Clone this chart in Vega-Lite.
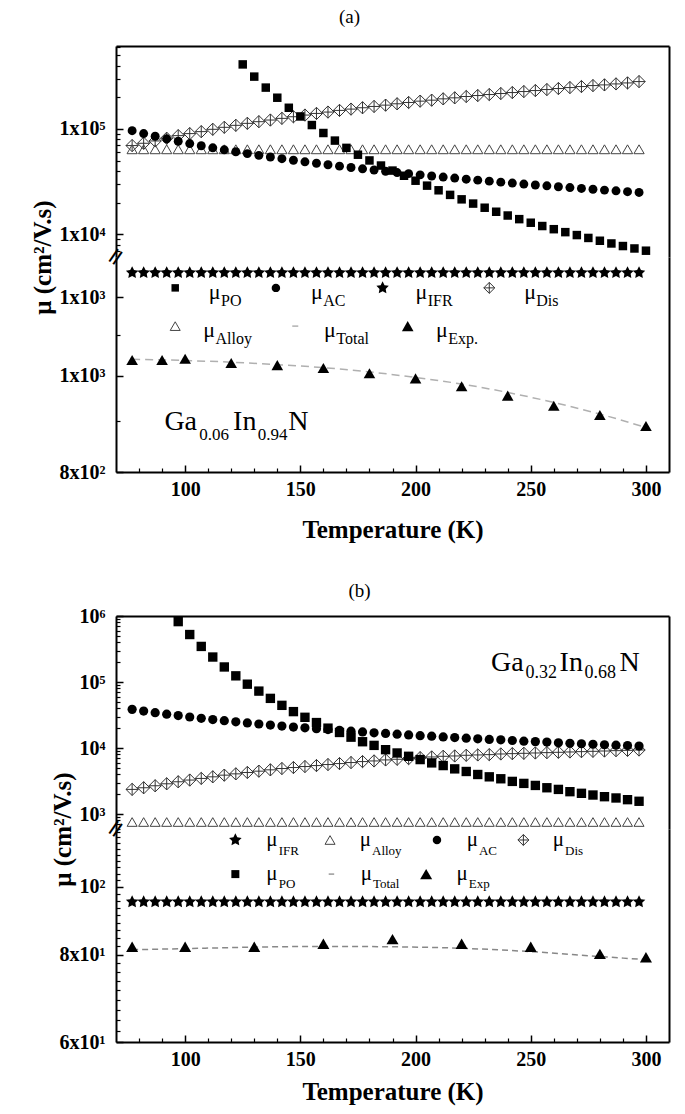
{
"$schema": "https://vega.github.io/schema/vega-lite/v6.json",
"padding": {"left": 30, "top": 8, "right": 5, "bottom": 5},
"config": {
  "view": {"stroke": null},
  "axis": {"grid": false, "domainColor": "#000", "tickColor": "#000", "labelColor": "#000", "titleColor": "#000", "labelFont": "Liberation Serif", "titleFont": "Liberation Serif", "labelFontWeight": "bold", "titleFontWeight": "bold", "labelFontSize": 20, "titleFontSize": 25, "domainWidth": 2, "tickWidth": 1.5, "labelFlush": false, "labelOverlap": false},
  "title": {"font": "Liberation Serif", "fontSize": 19, "fontWeight": "normal", "color": "#000", "anchor": "middle"}
},
"datasets": {
"aUp": [
{"s":"PO","T":125,"v":410000},{"s":"PO","T":130,"v":314000},{"s":"PO","T":135,"v":247000},{"s":"PO","T":140,"v":198000},{"s":"PO","T":145,"v":159000},{"s":"PO","T":150,"v":131500},{"s":"PO","T":155,"v":109000},{"s":"PO","T":160,"v":91600},{"s":"PO","T":165,"v":77600},{"s":"PO","T":170,"v":66200},{"s":"PO","T":175,"v":57000},{"s":"PO","T":180,"v":50300},{"s":"PO","T":185,"v":45000},{"s":"PO","T":190,"v":40300},{"s":"PO","T":195,"v":36000},{"s":"PO","T":200,"v":32300},{"s":"PO","T":205,"v":29000},{"s":"PO","T":210,"v":26200},{"s":"PO","T":215,"v":23700},{"s":"PO","T":220,"v":21500},{"s":"PO","T":225,"v":19600},{"s":"PO","T":230,"v":17900},{"s":"PO","T":235,"v":16400},{"s":"PO","T":240,"v":15100},{"s":"PO","T":245,"v":13950},{"s":"PO","T":250,"v":12900},{"s":"PO","T":255,"v":12000},{"s":"PO","T":260,"v":11200},{"s":"PO","T":265,"v":10500},{"s":"PO","T":270,"v":9850},{"s":"PO","T":275,"v":9250},{"s":"PO","T":280,"v":8700},{"s":"PO","T":285,"v":8200},{"s":"PO","T":290,"v":7750},{"s":"PO","T":295,"v":7350},{"s":"PO","T":300,"v":7000},
{"s":"AC","T":77,"v":96400},{"s":"AC","T":82,"v":90500},{"s":"AC","T":87,"v":85300},{"s":"AC","T":92,"v":80700},{"s":"AC","T":97,"v":76500},{"s":"AC","T":102,"v":72700},{"s":"AC","T":107,"v":69300},{"s":"AC","T":112,"v":66300},{"s":"AC","T":117,"v":63400},{"s":"AC","T":122,"v":60800},{"s":"AC","T":127,"v":58400},{"s":"AC","T":132,"v":56200},{"s":"AC","T":137,"v":54200},{"s":"AC","T":142,"v":52300},{"s":"AC","T":147,"v":50500},{"s":"AC","T":152,"v":48800},{"s":"AC","T":157,"v":47300},{"s":"AC","T":162,"v":45800},{"s":"AC","T":167,"v":44400},{"s":"AC","T":172,"v":43100},{"s":"AC","T":177,"v":41900},{"s":"AC","T":182,"v":40800},{"s":"AC","T":187,"v":39700},{"s":"AC","T":192,"v":38600},{"s":"AC","T":197,"v":37700},{"s":"AC","T":202,"v":36700},{"s":"AC","T":207,"v":35800},{"s":"AC","T":212,"v":35000},{"s":"AC","T":217,"v":34200},{"s":"AC","T":222,"v":33400},{"s":"AC","T":227,"v":32700},{"s":"AC","T":232,"v":32000},{"s":"AC","T":237,"v":31300},{"s":"AC","T":242,"v":30700},{"s":"AC","T":247,"v":30000},{"s":"AC","T":252,"v":29400},{"s":"AC","T":257,"v":28900},{"s":"AC","T":262,"v":28300},{"s":"AC","T":267,"v":27800},{"s":"AC","T":272,"v":27300},{"s":"AC","T":277,"v":26800},{"s":"AC","T":282,"v":26300},{"s":"AC","T":287,"v":25900},{"s":"AC","T":292,"v":25400},{"s":"AC","T":297,"v":25000},
{"s":"Dis","T":77,"v":69600},{"s":"Dis","T":82,"v":73200},{"s":"Dis","T":87,"v":77000},{"s":"Dis","T":92,"v":81700},{"s":"Dis","T":97,"v":86500},{"s":"Dis","T":102,"v":90400},{"s":"Dis","T":107,"v":94400},{"s":"Dis","T":112,"v":99300},{"s":"Dis","T":117,"v":103700},{"s":"Dis","T":122,"v":108300},{"s":"Dis","T":127,"v":113100},{"s":"Dis","T":132,"v":117300},{"s":"Dis","T":137,"v":121600},{"s":"Dis","T":142,"v":126100},{"s":"Dis","T":147,"v":130700},{"s":"Dis","T":152,"v":135600},{"s":"Dis","T":157,"v":140500},{"s":"Dis","T":162,"v":144700},{"s":"Dis","T":167,"v":150100},{"s":"Dis","T":172,"v":154400},{"s":"Dis","T":177,"v":159000},{"s":"Dis","T":182,"v":163600},{"s":"Dis","T":187,"v":168400},{"s":"Dis","T":192,"v":173400},{"s":"Dis","T":197,"v":178500},{"s":"Dis","T":202,"v":183700},{"s":"Dis","T":207,"v":187700},{"s":"Dis","T":212,"v":193200},{"s":"Dis","T":217,"v":197500},{"s":"Dis","T":222,"v":203300},{"s":"Dis","T":227,"v":207700},{"s":"Dis","T":232,"v":212300},{"s":"Dis","T":237,"v":217000},{"s":"Dis","T":242,"v":221700},{"s":"Dis","T":247,"v":226600},{"s":"Dis","T":252,"v":231600},{"s":"Dis","T":257,"v":236700},{"s":"Dis","T":262,"v":241900},{"s":"Dis","T":267,"v":247200},{"s":"Dis","T":272,"v":252600},{"s":"Dis","T":277,"v":258200},{"s":"Dis","T":282,"v":262000},{"s":"Dis","T":287,"v":267700},{"s":"Dis","T":292,"v":273600},{"s":"Dis","T":297,"v":281700},
{"s":"Alloy","T":77,"v":64200},{"s":"Alloy","T":82,"v":64200},{"s":"Alloy","T":87,"v":64200},{"s":"Alloy","T":92,"v":64200},{"s":"Alloy","T":97,"v":64200},{"s":"Alloy","T":102,"v":64200},{"s":"Alloy","T":107,"v":64200},{"s":"Alloy","T":112,"v":64200},{"s":"Alloy","T":117,"v":64200},{"s":"Alloy","T":122,"v":64200},{"s":"Alloy","T":127,"v":64200},{"s":"Alloy","T":132,"v":64200},{"s":"Alloy","T":137,"v":64200},{"s":"Alloy","T":142,"v":64200},{"s":"Alloy","T":147,"v":64200},{"s":"Alloy","T":152,"v":64200},{"s":"Alloy","T":157,"v":64200},{"s":"Alloy","T":162,"v":64200},{"s":"Alloy","T":167,"v":64200},{"s":"Alloy","T":172,"v":64200},{"s":"Alloy","T":177,"v":64200},{"s":"Alloy","T":182,"v":64200},{"s":"Alloy","T":187,"v":64200},{"s":"Alloy","T":192,"v":64200},{"s":"Alloy","T":197,"v":64200},{"s":"Alloy","T":202,"v":64200},{"s":"Alloy","T":207,"v":64200},{"s":"Alloy","T":212,"v":64200},{"s":"Alloy","T":217,"v":64200},{"s":"Alloy","T":222,"v":64200},{"s":"Alloy","T":227,"v":64200},{"s":"Alloy","T":232,"v":64200},{"s":"Alloy","T":237,"v":64200},{"s":"Alloy","T":242,"v":64200},{"s":"Alloy","T":247,"v":64200},{"s":"Alloy","T":252,"v":64200},{"s":"Alloy","T":257,"v":64200},{"s":"Alloy","T":262,"v":64200},{"s":"Alloy","T":267,"v":64200},{"s":"Alloy","T":272,"v":64200},{"s":"Alloy","T":277,"v":64200},{"s":"Alloy","T":282,"v":64200},{"s":"Alloy","T":287,"v":64200},{"s":"Alloy","T":292,"v":64200},{"s":"Alloy","T":297,"v":64200}
],
"aLow": [
{"s":"IFR","T":77,"v":1270},{"s":"IFR","T":82,"v":1270},{"s":"IFR","T":87,"v":1270},{"s":"IFR","T":92,"v":1270},{"s":"IFR","T":97,"v":1270},{"s":"IFR","T":102,"v":1270},{"s":"IFR","T":107,"v":1270},{"s":"IFR","T":112,"v":1270},{"s":"IFR","T":117,"v":1270},{"s":"IFR","T":122,"v":1270},{"s":"IFR","T":127,"v":1270},{"s":"IFR","T":132,"v":1270},{"s":"IFR","T":137,"v":1270},{"s":"IFR","T":142,"v":1270},{"s":"IFR","T":147,"v":1270},{"s":"IFR","T":152,"v":1270},{"s":"IFR","T":157,"v":1270},{"s":"IFR","T":162,"v":1270},{"s":"IFR","T":167,"v":1270},{"s":"IFR","T":172,"v":1270},{"s":"IFR","T":177,"v":1270},{"s":"IFR","T":182,"v":1270},{"s":"IFR","T":187,"v":1270},{"s":"IFR","T":192,"v":1270},{"s":"IFR","T":197,"v":1270},{"s":"IFR","T":202,"v":1270},{"s":"IFR","T":207,"v":1270},{"s":"IFR","T":212,"v":1270},{"s":"IFR","T":217,"v":1270},{"s":"IFR","T":222,"v":1270},{"s":"IFR","T":227,"v":1270},{"s":"IFR","T":232,"v":1270},{"s":"IFR","T":237,"v":1270},{"s":"IFR","T":242,"v":1270},{"s":"IFR","T":247,"v":1270},{"s":"IFR","T":252,"v":1270},{"s":"IFR","T":257,"v":1270},{"s":"IFR","T":262,"v":1270},{"s":"IFR","T":267,"v":1270},{"s":"IFR","T":272,"v":1270},{"s":"IFR","T":277,"v":1270},{"s":"IFR","T":282,"v":1270},{"s":"IFR","T":287,"v":1270},{"s":"IFR","T":292,"v":1270},{"s":"IFR","T":297,"v":1270},
{"s":"Exp","T":77,"v":1037},{"s":"Exp","T":90,"v":1037},{"s":"Exp","T":100,"v":1040},{"s":"Exp","T":120,"v":1030},{"s":"Exp","T":140,"v":1025},{"s":"Exp","T":160,"v":1018},{"s":"Exp","T":180,"v":1006},{"s":"Exp","T":200,"v":994},{"s":"Exp","T":220,"v":976},{"s":"Exp","T":240,"v":955},{"s":"Exp","T":260,"v":933},{"s":"Exp","T":280,"v":913},{"s":"Exp","T":300,"v":890},
{"s":"PO","T":95.7,"v":1226},{"s":"AC","T":139.4,"v":1226},{"s":"IFR","T":185.7,"v":1226},{"s":"Dis","T":232,"v":1226},{"s":"Alloy","T":95.7,"v":1122},{"s":"Total","T":147.8,"v":1122},{"s":"Exp","T":196.6,"v":1122}
],
"aTot": [
{"T":77,"v":1039},{"T":100,"v":1036},{"T":120,"v":1032},{"T":140,"v":1026},{"T":160,"v":1019},{"T":180,"v":1009},{"T":200,"v":996},{"T":220,"v":981},{"T":240,"v":962},{"T":260,"v":940},{"T":280,"v":915},{"T":300,"v":887}
],
"aBrk": [{"T":70,"v":1317,"t":"="}],
"aTxt": [
{"k":"mu","T":110.3,"v":1215,"t":"μ"},{"k":"mu","T":154.6,"v":1215,"t":"μ"},{"k":"mu","T":200.0,"v":1215,"t":"μ"},{"k":"mu","T":247.2,"v":1215,"t":"μ"},
{"k":"mu","T":107.9,"v":1112,"t":"μ"},{"k":"mu","T":160.3,"v":1112,"t":"μ"},{"k":"mu","T":208.9,"v":1112,"t":"μ"},
{"k":"sub","T":115.6,"v":1190,"t":"PO"},{"k":"sub","T":159.9,"v":1190,"t":"AC"},{"k":"sub","T":205.3,"v":1190,"t":"IFR"},{"k":"sub","T":252.4,"v":1190,"t":"Dis"},
{"k":"sub","T":113.2,"v":1089,"t":"Alloy"},{"k":"sub","T":165.6,"v":1089,"t":"Total"},{"k":"sub","T":214.2,"v":1089,"t":"Exp."},
{"k":"big","T":91.0,"v":899,"t":"Ga"},{"k":"big","T":120.8,"v":899,"t":"In"},{"k":"big","T":144.8,"v":899,"t":"N"},
{"k":"bigsub","T":106.1,"v":871.5,"t":"0.06"},{"k":"bigsub","T":131.5,"v":871.5,"t":"0.94"}
],
"bUp": [
{"s":"PO","T":97,"v":822000},{"s":"PO","T":102,"v":524000},{"s":"PO","T":107,"v":346000},{"s":"PO","T":112,"v":239000},{"s":"PO","T":117,"v":169000},{"s":"PO","T":122,"v":124000},{"s":"PO","T":127,"v":92700},{"s":"PO","T":132,"v":72800},{"s":"PO","T":137,"v":56500},{"s":"PO","T":142,"v":44300},{"s":"PO","T":147,"v":35600},{"s":"PO","T":152,"v":29200},{"s":"PO","T":157,"v":24300},{"s":"PO","T":162,"v":20000},{"s":"PO","T":167,"v":17200},{"s":"PO","T":172,"v":14600},{"s":"PO","T":177,"v":12450},{"s":"PO","T":182,"v":10960},{"s":"PO","T":187,"v":9440},{"s":"PO","T":192,"v":8410},{"s":"PO","T":197,"v":7490},{"s":"PO","T":202,"v":6680},{"s":"PO","T":207,"v":5950},{"s":"PO","T":212,"v":5420},{"s":"PO","T":217,"v":4830},{"s":"PO","T":222,"v":4410},{"s":"PO","T":227,"v":3970},{"s":"PO","T":232,"v":3660},{"s":"PO","T":237,"v":3420},{"s":"PO","T":242,"v":3120},{"s":"PO","T":247,"v":2910},{"s":"PO","T":252,"v":2710},{"s":"PO","T":257,"v":2500},{"s":"PO","T":262,"v":2360},{"s":"PO","T":267,"v":2180},{"s":"PO","T":272,"v":2060},{"s":"PO","T":277,"v":1940},{"s":"PO","T":282,"v":1830},{"s":"PO","T":287,"v":1750},{"s":"PO","T":292,"v":1650},{"s":"PO","T":297,"v":1560},
{"s":"AC","T":77,"v":38500},{"s":"AC","T":82,"v":36300},{"s":"AC","T":87,"v":34300},{"s":"AC","T":92,"v":32600},{"s":"AC","T":97,"v":31000},{"s":"AC","T":102,"v":29500},{"s":"AC","T":107,"v":28200},{"s":"AC","T":112,"v":27000},{"s":"AC","T":117,"v":25900},{"s":"AC","T":122,"v":24900},{"s":"AC","T":127,"v":24000},{"s":"AC","T":132,"v":23100},{"s":"AC","T":137,"v":22300},{"s":"AC","T":142,"v":21500},{"s":"AC","T":147,"v":20800},{"s":"AC","T":152,"v":20200},{"s":"AC","T":157,"v":19600},{"s":"AC","T":162,"v":19000},{"s":"AC","T":167,"v":18500},{"s":"AC","T":172,"v":18000},{"s":"AC","T":177,"v":17500},{"s":"AC","T":182,"v":17000},{"s":"AC","T":187,"v":16600},{"s":"AC","T":192,"v":16200},{"s":"AC","T":197,"v":15800},{"s":"AC","T":202,"v":15400},{"s":"AC","T":207,"v":15100},{"s":"AC","T":212,"v":14700},{"s":"AC","T":217,"v":14400},{"s":"AC","T":222,"v":14100},{"s":"AC","T":227,"v":13800},{"s":"AC","T":232,"v":13500},{"s":"AC","T":237,"v":13300},{"s":"AC","T":242,"v":13000},{"s":"AC","T":247,"v":12700},{"s":"AC","T":252,"v":12500},{"s":"AC","T":257,"v":12300},{"s":"AC","T":262,"v":12000},{"s":"AC","T":267,"v":11800},{"s":"AC","T":272,"v":11600},{"s":"AC","T":277,"v":11400},{"s":"AC","T":282,"v":11200},{"s":"AC","T":287,"v":11050},{"s":"AC","T":292,"v":10900},{"s":"AC","T":297,"v":10700},
{"s":"Dis","T":77,"v":2360},{"s":"Dis","T":82,"v":2500},{"s":"Dis","T":87,"v":2680},{"s":"Dis","T":92,"v":2870},{"s":"Dis","T":97,"v":3080},{"s":"Dis","T":102,"v":3270},{"s":"Dis","T":107,"v":3460},{"s":"Dis","T":112,"v":3660},{"s":"Dis","T":117,"v":3880},{"s":"Dis","T":122,"v":4060},{"s":"Dis","T":127,"v":4260},{"s":"Dis","T":132,"v":4460},{"s":"Dis","T":137,"v":4670},{"s":"Dis","T":142,"v":4890},{"s":"Dis","T":147,"v":5060},{"s":"Dis","T":152,"v":5240},{"s":"Dis","T":157,"v":5420},{"s":"Dis","T":162,"v":5620},{"s":"Dis","T":167,"v":5810},{"s":"Dis","T":172,"v":6020},{"s":"Dis","T":177,"v":6230},{"s":"Dis","T":182,"v":6370},{"s":"Dis","T":187,"v":6600},{"s":"Dis","T":192,"v":6750},{"s":"Dis","T":197,"v":6910},{"s":"Dis","T":202,"v":7150},{"s":"Dis","T":207,"v":7320},{"s":"Dis","T":212,"v":7490},{"s":"Dis","T":217,"v":7580},{"s":"Dis","T":222,"v":7760},{"s":"Dis","T":227,"v":7850},{"s":"Dis","T":232,"v":7940},{"s":"Dis","T":237,"v":8120},{"s":"Dis","T":242,"v":8220},{"s":"Dis","T":247,"v":8310},{"s":"Dis","T":252,"v":8410},{"s":"Dis","T":257,"v":8510},{"s":"Dis","T":262,"v":8610},{"s":"Dis","T":267,"v":8710},{"s":"Dis","T":272,"v":8810},{"s":"Dis","T":277,"v":8910},{"s":"Dis","T":282,"v":9010},{"s":"Dis","T":287,"v":9120},{"s":"Dis","T":292,"v":9220},{"s":"Dis","T":297,"v":9330},
{"s":"Alloy","T":77,"v":757},{"s":"Alloy","T":82,"v":757},{"s":"Alloy","T":87,"v":757},{"s":"Alloy","T":92,"v":757},{"s":"Alloy","T":97,"v":757},{"s":"Alloy","T":102,"v":757},{"s":"Alloy","T":107,"v":757},{"s":"Alloy","T":112,"v":757},{"s":"Alloy","T":117,"v":757},{"s":"Alloy","T":122,"v":757},{"s":"Alloy","T":127,"v":757},{"s":"Alloy","T":132,"v":757},{"s":"Alloy","T":137,"v":757},{"s":"Alloy","T":142,"v":757},{"s":"Alloy","T":147,"v":757},{"s":"Alloy","T":152,"v":757},{"s":"Alloy","T":157,"v":757},{"s":"Alloy","T":162,"v":757},{"s":"Alloy","T":167,"v":757},{"s":"Alloy","T":172,"v":757},{"s":"Alloy","T":177,"v":757},{"s":"Alloy","T":182,"v":757},{"s":"Alloy","T":187,"v":757},{"s":"Alloy","T":192,"v":757},{"s":"Alloy","T":197,"v":757},{"s":"Alloy","T":202,"v":757},{"s":"Alloy","T":207,"v":757},{"s":"Alloy","T":212,"v":757},{"s":"Alloy","T":217,"v":757},{"s":"Alloy","T":222,"v":757},{"s":"Alloy","T":227,"v":757},{"s":"Alloy","T":232,"v":757},{"s":"Alloy","T":237,"v":757},{"s":"Alloy","T":242,"v":757},{"s":"Alloy","T":247,"v":757},{"s":"Alloy","T":252,"v":757},{"s":"Alloy","T":257,"v":757},{"s":"Alloy","T":262,"v":757},{"s":"Alloy","T":267,"v":757},{"s":"Alloy","T":272,"v":757},{"s":"Alloy","T":277,"v":757},{"s":"Alloy","T":282,"v":757},{"s":"Alloy","T":287,"v":757},{"s":"Alloy","T":292,"v":757},{"s":"Alloy","T":297,"v":757}
],
"bUpTxt": [
{"k":"big","T":232.8,"v":194000,"t":"Ga"},{"k":"big","T":262.5,"v":194000,"t":"In"},{"k":"big","T":288.5,"v":194000,"t":"N"},
{"k":"bigsub","T":247.7,"v":137000,"t":"0.32"},{"k":"bigsub","T":273.3,"v":137000,"t":"0.68"}
],
"bLow": [
{"s":"IFR","T":77,"v":95.2},{"s":"IFR","T":82,"v":95.2},{"s":"IFR","T":87,"v":95.2},{"s":"IFR","T":92,"v":95.2},{"s":"IFR","T":97,"v":95.2},{"s":"IFR","T":102,"v":95.2},{"s":"IFR","T":107,"v":95.2},{"s":"IFR","T":112,"v":95.2},{"s":"IFR","T":117,"v":95.2},{"s":"IFR","T":122,"v":95.2},{"s":"IFR","T":127,"v":95.2},{"s":"IFR","T":132,"v":95.2},{"s":"IFR","T":137,"v":95.2},{"s":"IFR","T":142,"v":95.2},{"s":"IFR","T":147,"v":95.2},{"s":"IFR","T":152,"v":95.2},{"s":"IFR","T":157,"v":95.2},{"s":"IFR","T":162,"v":95.2},{"s":"IFR","T":167,"v":95.2},{"s":"IFR","T":172,"v":95.2},{"s":"IFR","T":177,"v":95.2},{"s":"IFR","T":182,"v":95.2},{"s":"IFR","T":187,"v":95.2},{"s":"IFR","T":192,"v":95.2},{"s":"IFR","T":197,"v":95.2},{"s":"IFR","T":202,"v":95.2},{"s":"IFR","T":207,"v":95.2},{"s":"IFR","T":212,"v":95.2},{"s":"IFR","T":217,"v":95.2},{"s":"IFR","T":222,"v":95.2},{"s":"IFR","T":227,"v":95.2},{"s":"IFR","T":232,"v":95.2},{"s":"IFR","T":237,"v":95.2},{"s":"IFR","T":242,"v":95.2},{"s":"IFR","T":247,"v":95.2},{"s":"IFR","T":252,"v":95.2},{"s":"IFR","T":257,"v":95.2},{"s":"IFR","T":262,"v":95.2},{"s":"IFR","T":267,"v":95.2},{"s":"IFR","T":272,"v":95.2},{"s":"IFR","T":277,"v":95.2},{"s":"IFR","T":282,"v":95.2},{"s":"IFR","T":287,"v":95.2},{"s":"IFR","T":292,"v":95.2},{"s":"IFR","T":297,"v":95.2},
{"s":"Exp","T":77,"v":82.1},{"s":"Exp","T":100,"v":82.1},{"s":"Exp","T":130,"v":82.1},{"s":"Exp","T":160,"v":82.9},{"s":"Exp","T":190,"v":84.2},{"s":"Exp","T":220,"v":82.9},{"s":"Exp","T":250,"v":82.1},{"s":"Exp","T":280,"v":80.2},{"s":"Exp","T":300,"v":79.3},
{"s":"IFR","T":121.8,"v":116.7},{"s":"Alloy","T":162.9,"v":116.7},{"s":"AC","T":209.3,"v":116.7},{"s":"Dis","T":246.8,"v":116.7},{"s":"PO","T":121.8,"v":104.3},{"s":"Total","T":163.5,"v":104.3},{"s":"Exp","T":204.6,"v":104.3}
],
"bTot": [
{"T":77,"v":81.3},{"T":100,"v":81.6},{"T":130,"v":82.0},{"T":160,"v":82.2},{"T":190,"v":82.1},{"T":220,"v":81.7},{"T":250,"v":80.8},{"T":280,"v":79.5},{"T":300,"v":78.7}
],
"bBrk": [{"T":70,"v":121,"t":"="}],
"bTxt": [
{"k":"mu","T":135.2,"v":116.6,"t":"μ"},{"k":"mu","T":175.8,"v":116.6,"t":"μ"},{"k":"mu","T":222.2,"v":116.6,"t":"μ"},{"k":"mu","T":259.5,"v":116.6,"t":"μ"},
{"k":"mu","T":135.2,"v":104.2,"t":"μ"},{"k":"mu","T":176.2,"v":104.2,"t":"μ"},{"k":"mu","T":217.8,"v":104.2,"t":"μ"},
{"k":"sub","T":140.6,"v":112.6,"t":"IFR"},{"k":"sub","T":181.1,"v":112.6,"t":"Alloy"},{"k":"sub","T":227.5,"v":112.6,"t":"AC"},{"k":"sub","T":264.9,"v":112.6,"t":"Dis"},
{"k":"sub","T":140.6,"v":100.9,"t":"PO"},{"k":"sub","T":181.5,"v":100.9,"t":"Total"},{"k":"sub","T":223.1,"v":100.9,"t":"Exp"}
]
},
"spacing": 40,
"vconcat": [
{
 "title": {"text": "(a)", "offset": 19},
 "spacing": 0,
 "bounds": "flush",
 "vconcat": [
  {
   "width": 553, "height": 211,
   "data": {"name": "aUp"},
   "resolve": {"axis": {"x": "independent", "y": "independent"}},
   "layer": [
    {"transform": [{"filter": "datum.s=='Dis'"}],
     "mark": {"type": "point", "shape": "M0,-1L1,0L0,1L-1,0ZM0,-1L0,1M-1,0L1,0", "filled": false, "color": "#333", "strokeWidth": 1, "size": 150, "opacity": 1},
     "encoding": {
      "x": {"field": "T", "type": "quantitative", "scale": {"domain": [70, 310], "nice": false, "zero": false}, "axis": {"orient": "top", "labels": false, "ticks": false, "title": null}},
      "y": {"field": "v", "type": "quantitative", "scale": {"type": "log", "domain": [6100, 613000], "nice": false}, "axis": {"orient": "left", "values": [10000, 100000], "labelExpr": "datum.value == 100000 ? '1x10⁵' : '1x10⁴'", "tickSize": -7, "labelPadding": 18, "title": "μ  (cm²/V.s)", "titleY": 211, "titlePadding": 4}}
     }},
    {"transform": [{"filter": "datum.s=='Alloy'"}],
     "mark": {"type": "point", "shape": "triangle-up", "filled": false, "color": "#444", "strokeWidth": 1, "size": 105, "opacity": 1},
     "encoding": {
      "x": {"field": "T", "type": "quantitative", "scale": {"domain": [70, 310], "nice": false, "zero": false}, "axis": null},
      "y": {"field": "v", "type": "quantitative", "scale": {"type": "log", "domain": [6100, 613000], "nice": false}, "axis": {"orient": "left", "values": [7000,8000,9000,20000,30000,40000,50000,60000,70000,80000,90000,200000,300000,400000,500000,600000], "labels": false, "domain": false, "tickSize": -4, "tickWidth": 1.2, "title": null}}
     }},
    {"transform": [{"filter": "datum.s=='AC'"}],
     "mark": {"type": "point", "shape": "circle", "filled": true, "color": "#000", "size": 80, "opacity": 1},
     "encoding": {
      "x": {"field": "T", "type": "quantitative", "scale": {"domain": [70, 310], "nice": false, "zero": false}, "axis": null},
      "y": {"field": "v", "type": "quantitative", "scale": {"type": "log", "domain": [6100, 613000], "nice": false}, "axis": {"orient": "right", "labels": false, "ticks": false, "title": null}}
     }},
    {"transform": [{"filter": "datum.s=='PO'"}],
     "mark": {"type": "point", "shape": "square", "filled": true, "color": "#000", "size": 72, "opacity": 1},
     "encoding": {
      "x": {"field": "T", "type": "quantitative", "scale": {"domain": [70, 310], "nice": false, "zero": false}, "axis": null},
      "y": {"field": "v", "type": "quantitative", "scale": {"type": "log", "domain": [6100, 613000], "nice": false}, "axis": null}
     }}
   ]
  },
  {
   "width": 553, "height": 215,
   "data": {"name": "aLow"},
   "resolve": {"axis": {"x": "independent", "y": "independent"}},
   "layer": [
    {"data": {"name": "aTot"},
     "mark": {"type": "line", "color": "#b0b0b0", "strokeWidth": 1.5, "strokeDash": [8, 5], "interpolate": "monotone"},
     "encoding": {
      "x": {"field": "T", "type": "quantitative", "scale": {"domain": [70, 310], "nice": false, "zero": false}, "axis": {"orient": "bottom", "values": [80,90,110,120,130,140,160,170,180,190,210,220,230,240,260,270,280,290], "labels": false, "domain": false, "tickSize": -4, "tickWidth": 1.2, "title": null}},
      "y": {"field": "v", "type": "quantitative", "scale": {"type": "log", "domain": [800, 1317], "nice": false}, "axis": {"orient": "left", "values": [900, 1100], "labels": false, "domain": false, "tickSize": -4, "tickWidth": 1.2, "title": null}}
     }},
    {"transform": [{"filter": "datum.s=='IFR'"}],
     "mark": {"type": "point", "shape": "M0,-1L0.2939,-0.4045L0.9511,-0.309L0.4755,0.1545L0.5878,0.809L0,0.5L-0.5878,0.809L-0.4755,0.1545L-0.9511,-0.309L-0.2939,-0.4045Z", "filled": true, "color": "#000", "size": 170, "opacity": 1},
     "encoding": {
      "x": {"field": "T", "type": "quantitative", "scale": {"domain": [70, 310], "nice": false, "zero": false}, "axis": {"orient": "bottom", "values": [100,150,200,250,300], "format": "d", "tickSize": -7, "labelPadding": 14, "title": "Temperature (K)", "titlePadding": 18}},
      "y": {"field": "v", "type": "quantitative", "scale": {"type": "log", "domain": [800, 1317], "nice": false}, "axis": {"orient": "left", "values": [800, 1000, 1200], "labelExpr": "datum.value == 800 ? '8x10²' : '1x10³'", "tickSize": -7, "labelPadding": 18, "title": null}}
     }},
    {"transform": [{"filter": "datum.s=='Exp'"}],
     "mark": {"type": "point", "shape": "triangle-up", "filled": true, "color": "#000", "size": 135, "opacity": 1},
     "encoding": {
      "x": {"field": "T", "type": "quantitative", "scale": {"domain": [70, 310], "nice": false, "zero": false}, "axis": null},
      "y": {"field": "v", "type": "quantitative", "scale": {"type": "log", "domain": [800, 1317], "nice": false}, "axis": {"orient": "right", "labels": false, "ticks": false, "title": null}}
     }},
    {"transform": [{"filter": "datum.s=='PO'"}],
     "mark": {"type": "point", "shape": "square", "filled": true, "color": "#000", "size": 56, "opacity": 1},
     "encoding": {"x": {"field": "T", "type": "quantitative", "scale": {"domain": [70, 310], "nice": false, "zero": false}, "axis": null}, "y": {"field": "v", "type": "quantitative", "scale": {"type": "log", "domain": [800, 1317], "nice": false}, "axis": null}}},
    {"transform": [{"filter": "datum.s=='AC'"}],
     "mark": {"type": "point", "shape": "circle", "filled": true, "color": "#000", "size": 72, "opacity": 1},
     "encoding": {"x": {"field": "T", "type": "quantitative", "scale": {"domain": [70, 310], "nice": false, "zero": false}, "axis": null}, "y": {"field": "v", "type": "quantitative", "scale": {"type": "log", "domain": [800, 1317], "nice": false}, "axis": null}}},
    {"transform": [{"filter": "datum.s=='Dis'"}],
     "mark": {"type": "point", "shape": "M0,-1L1,0L0,1L-1,0ZM0,-1L0,1M-1,0L1,0", "filled": false, "color": "#333", "strokeWidth": 1, "size": 120, "opacity": 1},
     "encoding": {"x": {"field": "T", "type": "quantitative", "scale": {"domain": [70, 310], "nice": false, "zero": false}, "axis": null}, "y": {"field": "v", "type": "quantitative", "scale": {"type": "log", "domain": [800, 1317], "nice": false}, "axis": null}}},
    {"transform": [{"filter": "datum.s=='Alloy'"}],
     "mark": {"type": "point", "shape": "triangle-up", "filled": false, "color": "#444", "strokeWidth": 1, "size": 100, "opacity": 1},
     "encoding": {"x": {"field": "T", "type": "quantitative", "scale": {"domain": [70, 310], "nice": false, "zero": false}, "axis": null}, "y": {"field": "v", "type": "quantitative", "scale": {"type": "log", "domain": [800, 1317], "nice": false}, "axis": null}}},
    {"transform": [{"filter": "datum.s=='Total'"}],
     "mark": {"type": "point", "shape": "stroke", "filled": false, "color": "#b0b0b0", "strokeWidth": 1.5, "size": 36, "opacity": 1},
     "encoding": {"x": {"field": "T", "type": "quantitative", "scale": {"domain": [70, 310], "nice": false, "zero": false}, "axis": null}, "y": {"field": "v", "type": "quantitative", "scale": {"type": "log", "domain": [800, 1317], "nice": false}, "axis": null}}},
    {"data": {"name": "aBrk"},
     "mark": {"type": "text", "align": "center", "baseline": "middle", "font": "DejaVu Sans", "fontSize": 24, "angle": -55, "color": "#000"},
     "encoding": {"x": {"field": "T", "type": "quantitative", "scale": {"domain": [70, 310], "nice": false, "zero": false}, "axis": null}, "y": {"field": "v", "type": "quantitative", "scale": {"type": "log", "domain": [800, 1317], "nice": false}, "axis": null}, "text": {"field": "t"}}},
    {"data": {"name": "aTxt"}, "transform": [{"filter": "datum.k=='mu'"}],
     "mark": {"type": "text", "align": "left", "baseline": "middle", "font": "Liberation Serif", "fontSize": 22, "color": "#000"},
     "encoding": {"x": {"field": "T", "type": "quantitative", "scale": {"domain": [70, 310], "nice": false, "zero": false}, "axis": null}, "y": {"field": "v", "type": "quantitative", "scale": {"type": "log", "domain": [800, 1317], "nice": false}, "axis": null}, "text": {"field": "t"}}},
    {"data": {"name": "aTxt"}, "transform": [{"filter": "datum.k=='sub'"}],
     "mark": {"type": "text", "align": "left", "baseline": "middle", "font": "Liberation Serif", "fontSize": 16, "color": "#000"},
     "encoding": {"x": {"field": "T", "type": "quantitative", "scale": {"domain": [70, 310], "nice": false, "zero": false}, "axis": null}, "y": {"field": "v", "type": "quantitative", "scale": {"type": "log", "domain": [800, 1317], "nice": false}, "axis": null}, "text": {"field": "t"}}},
    {"data": {"name": "aTxt"}, "transform": [{"filter": "datum.k=='big'"}],
     "mark": {"type": "text", "align": "left", "baseline": "middle", "font": "Liberation Serif", "fontSize": 28, "color": "#000"},
     "encoding": {"x": {"field": "T", "type": "quantitative", "scale": {"domain": [70, 310], "nice": false, "zero": false}, "axis": null}, "y": {"field": "v", "type": "quantitative", "scale": {"type": "log", "domain": [800, 1317], "nice": false}, "axis": null}, "text": {"field": "t"}}},
    {"data": {"name": "aTxt"}, "transform": [{"filter": "datum.k=='bigsub'"}],
     "mark": {"type": "text", "align": "left", "baseline": "middle", "font": "Liberation Serif", "fontSize": 17, "color": "#000"},
     "encoding": {"x": {"field": "T", "type": "quantitative", "scale": {"domain": [70, 310], "nice": false, "zero": false}, "axis": null}, "y": {"field": "v", "type": "quantitative", "scale": {"type": "log", "domain": [800, 1317], "nice": false}, "axis": null}, "text": {"field": "t"}}}
   ]
  }
 ]
},
{
 "title": {"text": "(b)", "offset": 5},
 "spacing": 0,
 "bounds": "flush",
 "vconcat": [
  {
   "width": 553, "height": 213,
   "data": {"name": "bUp"},
   "resolve": {"axis": {"x": "independent", "y": "independent"}},
   "layer": [
    {"transform": [{"filter": "datum.s=='Dis'"}],
     "mark": {"type": "point", "shape": "M0,-1L1,0L0,1L-1,0ZM0,-1L0,1M-1,0L1,0", "filled": false, "color": "#333", "strokeWidth": 1, "size": 150, "opacity": 1},
     "encoding": {
      "x": {"field": "T", "type": "quantitative", "scale": {"domain": [70, 310], "nice": false, "zero": false}, "axis": {"orient": "top", "labels": false, "ticks": false, "title": null}},
      "y": {"field": "v", "type": "quantitative", "scale": {"type": "log", "domain": [593, 1000000], "nice": false}, "axis": {"orient": "left", "values": [1000, 10000, 100000, 1000000], "labelExpr": "datum.value == 1000000 ? '10⁶' : datum.value == 100000 ? '10⁵' : datum.value == 10000 ? '10⁴' : '10³'", "tickSize": -7, "labelPadding": 18, "title": "μ  (cm²/V.s)", "titleY": 213, "titlePadding": 4}}
     }},
    {"transform": [{"filter": "datum.s=='Alloy'"}],
     "mark": {"type": "point", "shape": "triangle-up", "filled": false, "color": "#444", "strokeWidth": 1, "size": 100, "opacity": 1},
     "encoding": {
      "x": {"field": "T", "type": "quantitative", "scale": {"domain": [70, 310], "nice": false, "zero": false}, "axis": null},
      "y": {"field": "v", "type": "quantitative", "scale": {"type": "log", "domain": [593, 1000000], "nice": false}, "axis": {"orient": "left", "values": [600,700,800,900,2000,3000,4000,5000,6000,7000,8000,9000,20000,30000,40000,50000,60000,70000,80000,90000,200000,300000,400000,500000,600000,700000,800000,900000], "labels": false, "domain": false, "tickSize": -4, "tickWidth": 1.2, "title": null}}
     }},
    {"transform": [{"filter": "datum.s=='AC'"}],
     "mark": {"type": "point", "shape": "circle", "filled": true, "color": "#000", "size": 85, "opacity": 1},
     "encoding": {
      "x": {"field": "T", "type": "quantitative", "scale": {"domain": [70, 310], "nice": false, "zero": false}, "axis": null},
      "y": {"field": "v", "type": "quantitative", "scale": {"type": "log", "domain": [593, 1000000], "nice": false}, "axis": {"orient": "right", "labels": false, "ticks": false, "title": null}}
     }},
    {"transform": [{"filter": "datum.s=='PO'"}],
     "mark": {"type": "point", "shape": "square", "filled": true, "color": "#000", "size": 88, "opacity": 1},
     "encoding": {
      "x": {"field": "T", "type": "quantitative", "scale": {"domain": [70, 310], "nice": false, "zero": false}, "axis": null},
      "y": {"field": "v", "type": "quantitative", "scale": {"type": "log", "domain": [593, 1000000], "nice": false}, "axis": null}
     }},
    {"data": {"name": "bUpTxt"}, "transform": [{"filter": "datum.k=='big'"}],
     "mark": {"type": "text", "align": "left", "baseline": "middle", "font": "Liberation Serif", "fontSize": 28, "color": "#000"},
     "encoding": {"x": {"field": "T", "type": "quantitative", "scale": {"domain": [70, 310], "nice": false, "zero": false}, "axis": null}, "y": {"field": "v", "type": "quantitative", "scale": {"type": "log", "domain": [593, 1000000], "nice": false}, "axis": null}, "text": {"field": "t"}}},
    {"data": {"name": "bUpTxt"}, "transform": [{"filter": "datum.k=='bigsub'"}],
     "mark": {"type": "text", "align": "left", "baseline": "middle", "font": "Liberation Serif", "fontSize": 18, "color": "#000"},
     "encoding": {"x": {"field": "T", "type": "quantitative", "scale": {"domain": [70, 310], "nice": false, "zero": false}, "axis": null}, "y": {"field": "v", "type": "quantitative", "scale": {"type": "log", "domain": [593, 1000000], "nice": false}, "axis": null}, "text": {"field": "t"}}}
   ]
  },
  {
   "width": 553, "height": 213,
   "data": {"name": "bLow"},
   "resolve": {"axis": {"x": "independent", "y": "independent"}},
   "layer": [
    {"data": {"name": "bTot"},
     "mark": {"type": "line", "color": "#888", "strokeWidth": 1.5, "strokeDash": [6, 4], "interpolate": "monotone"},
     "encoding": {
      "x": {"field": "T", "type": "quantitative", "scale": {"domain": [70, 310], "nice": false, "zero": false}, "axis": {"orient": "bottom", "values": [80,90,110,120,130,140,160,170,180,190,210,220,230,240,260,270,280,290], "labels": false, "domain": false, "tickSize": -4, "tickWidth": 1.2, "title": null}},
      "y": {"field": "v", "type": "quantitative", "scale": {"type": "log", "domain": [60, 121], "nice": false}, "axis": {"orient": "left", "values": [62.22,64.44,66.67,68.89,71.11,73.33,75.56,77.78,82.22,84.44,86.67,88.89,91.11,93.33,95.56,97.78,102.22,104.44,106.67,108.89,111.11,113.33,115.56,117.78,120], "labels": false, "domain": false, "tickSize": -4, "tickWidth": 1.2, "title": null}}
     }},
    {"transform": [{"filter": "datum.s=='IFR'"}],
     "mark": {"type": "point", "shape": "M0,-1L0.2939,-0.4045L0.9511,-0.309L0.4755,0.1545L0.5878,0.809L0,0.5L-0.5878,0.809L-0.4755,0.1545L-0.9511,-0.309L-0.2939,-0.4045Z", "filled": true, "color": "#000", "size": 175, "opacity": 1},
     "encoding": {
      "x": {"field": "T", "type": "quantitative", "scale": {"domain": [70, 310], "nice": false, "zero": false}, "axis": {"orient": "bottom", "values": [100,150,200,250,300], "format": "d", "tickSize": -7, "labelPadding": 14, "title": "Temperature (K)", "titlePadding": 10}},
      "y": {"field": "v", "type": "quantitative", "scale": {"type": "log", "domain": [60, 121], "nice": false}, "axis": {"orient": "left", "values": [60, 80, 100], "labelExpr": "datum.value == 60 ? '6x10¹' : datum.value == 80 ? '8x10¹' : '10²'", "tickSize": -7, "labelPadding": 18, "title": null}}
     }},
    {"transform": [{"filter": "datum.s=='Exp'"}],
     "mark": {"type": "point", "shape": "triangle-up", "filled": true, "color": "#000", "size": 145, "opacity": 1},
     "encoding": {
      "x": {"field": "T", "type": "quantitative", "scale": {"domain": [70, 310], "nice": false, "zero": false}, "axis": null},
      "y": {"field": "v", "type": "quantitative", "scale": {"type": "log", "domain": [60, 121], "nice": false}, "axis": {"orient": "right", "labels": false, "ticks": false, "title": null}}
     }},
    {"transform": [{"filter": "datum.s=='PO'"}],
     "mark": {"type": "point", "shape": "square", "filled": true, "color": "#000", "size": 64, "opacity": 1},
     "encoding": {"x": {"field": "T", "type": "quantitative", "scale": {"domain": [70, 310], "nice": false, "zero": false}, "axis": null}, "y": {"field": "v", "type": "quantitative", "scale": {"type": "log", "domain": [60, 121], "nice": false}, "axis": null}}},
    {"transform": [{"filter": "datum.s=='AC'"}],
     "mark": {"type": "point", "shape": "circle", "filled": true, "color": "#000", "size": 72, "opacity": 1},
     "encoding": {"x": {"field": "T", "type": "quantitative", "scale": {"domain": [70, 310], "nice": false, "zero": false}, "axis": null}, "y": {"field": "v", "type": "quantitative", "scale": {"type": "log", "domain": [60, 121], "nice": false}, "axis": null}}},
    {"transform": [{"filter": "datum.s=='Dis'"}],
     "mark": {"type": "point", "shape": "M0,-1L1,0L0,1L-1,0ZM0,-1L0,1M-1,0L1,0", "filled": false, "color": "#333", "strokeWidth": 1, "size": 120, "opacity": 1},
     "encoding": {"x": {"field": "T", "type": "quantitative", "scale": {"domain": [70, 310], "nice": false, "zero": false}, "axis": null}, "y": {"field": "v", "type": "quantitative", "scale": {"type": "log", "domain": [60, 121], "nice": false}, "axis": null}}},
    {"transform": [{"filter": "datum.s=='Alloy'"}],
     "mark": {"type": "point", "shape": "triangle-up", "filled": false, "color": "#444", "strokeWidth": 1, "size": 100, "opacity": 1},
     "encoding": {"x": {"field": "T", "type": "quantitative", "scale": {"domain": [70, 310], "nice": false, "zero": false}, "axis": null}, "y": {"field": "v", "type": "quantitative", "scale": {"type": "log", "domain": [60, 121], "nice": false}, "axis": null}}},
    {"transform": [{"filter": "datum.s=='Total'"}],
     "mark": {"type": "point", "shape": "stroke", "filled": false, "color": "#999", "strokeWidth": 1.5, "size": 30, "opacity": 1},
     "encoding": {"x": {"field": "T", "type": "quantitative", "scale": {"domain": [70, 310], "nice": false, "zero": false}, "axis": null}, "y": {"field": "v", "type": "quantitative", "scale": {"type": "log", "domain": [60, 121], "nice": false}, "axis": null}}},
    {"data": {"name": "bBrk"},
     "mark": {"type": "text", "align": "center", "baseline": "middle", "font": "DejaVu Sans", "fontSize": 24, "angle": -55, "color": "#000"},
     "encoding": {"x": {"field": "T", "type": "quantitative", "scale": {"domain": [70, 310], "nice": false, "zero": false}, "axis": null}, "y": {"field": "v", "type": "quantitative", "scale": {"type": "log", "domain": [60, 121], "nice": false}, "axis": null}, "text": {"field": "t"}}},
    {"data": {"name": "bTxt"}, "transform": [{"filter": "datum.k=='mu'"}],
     "mark": {"type": "text", "align": "left", "baseline": "middle", "font": "Liberation Serif", "fontSize": 21, "color": "#000"},
     "encoding": {"x": {"field": "T", "type": "quantitative", "scale": {"domain": [70, 310], "nice": false, "zero": false}, "axis": null}, "y": {"field": "v", "type": "quantitative", "scale": {"type": "log", "domain": [60, 121], "nice": false}, "axis": null}, "text": {"field": "t"}}},
    {"data": {"name": "bTxt"}, "transform": [{"filter": "datum.k=='sub'"}],
     "mark": {"type": "text", "align": "left", "baseline": "middle", "font": "Liberation Serif", "fontSize": 13, "color": "#000"},
     "encoding": {"x": {"field": "T", "type": "quantitative", "scale": {"domain": [70, 310], "nice": false, "zero": false}, "axis": null}, "y": {"field": "v", "type": "quantitative", "scale": {"type": "log", "domain": [60, 121], "nice": false}, "axis": null}, "text": {"field": "t"}}}
   ]
  }
 ]
}
]
}
